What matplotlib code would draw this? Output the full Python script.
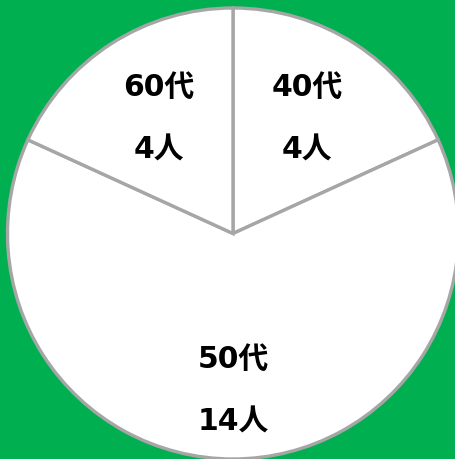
import numpy as np
import matplotlib
matplotlib.use('Agg')
import matplotlib.pyplot as plt

plt.rcParams['font.family'] = ['DejaVu Sans', 'Noto Sans CJK JP']

# Data
ages = ['40代', '50代', '60代']
counts = [4, 14, 4]
label_dist = [0.61, 0.693, 0.61]

W, H = 456, 460
fig = plt.figure(figsize=(W / 100, H / 100), dpi=100)
fig.patch.set_facecolor('#00B050')
ax = fig.add_axes([0, 0, 1, 1])

cx, cy, r = 233, H - 234.5, 225.5
wedges, _ = ax.pie(counts, startangle=90, counterclock=False, center=(cx, cy), radius=r,
                   colors=['white'] * len(counts),
                   wedgeprops=dict(edgecolor='#A6A6A6', linewidth=2.4))

for w, age, n, d in zip(wedges, ages, counts, label_dist):
    mid = np.deg2rad((w.theta1 + w.theta2) / 2)
    x, y = cx + d * r * np.cos(mid), cy + d * r * np.sin(mid)
    for txt, off in [(age, 22.5), (f'{n}人', -22.5)]:
        ax.annotate(txt, (x, y), xytext=(0, off), textcoords='offset points',
                    ha='center', va='center', fontsize=21.5, fontweight='bold', color='black')

ax.set_xlim(0, W)
ax.set_ylim(0, H)
ax.set_aspect('equal')
ax.axis('off')

fig.savefig('out.png', dpi=100, facecolor=fig.get_facecolor())
